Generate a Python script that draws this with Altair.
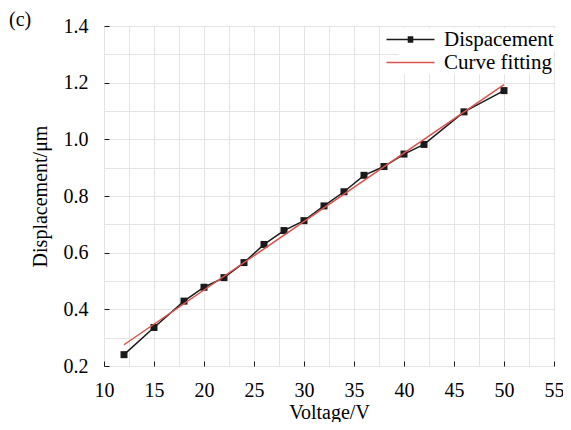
import altair as alt
import pandas as pd

# ---- data ----
voltage = [12, 15, 18, 20, 22, 24, 26, 28, 30, 32, 34, 36, 38, 40, 42, 46, 50]
displacement = [0.240, 0.336, 0.429, 0.478, 0.512, 0.565, 0.629, 0.678, 0.713,
                0.765, 0.815, 0.873, 0.904, 0.948, 0.982, 1.097, 1.172]
fit_voltage = [12, 50]
fit_displacement = [0.275, 1.193]

x_ticks = [10, 12.5, 15, 17.5, 20, 22.5, 25, 27.5, 30, 32.5, 35, 37.5, 40,
           42.5, 45, 47.5, 50, 52.5, 55]
y_ticks = [0.2, 0.3, 0.4, 0.5, 0.6, 0.7, 0.8, 0.9, 1.0, 1.1, 1.2, 1.3, 1.4]

data_name = "Dispacement"
fit_name = "Curve fitting"

df_data = pd.DataFrame({"Voltage": voltage, "Displacement": displacement,
                        "Series": [data_name] * len(voltage)})
df_fit = pd.DataFrame({"Voltage": fit_voltage, "Displacement": fit_displacement,
                       "Series": [fit_name] * len(fit_voltage)})

FONT = "Liberation Serif"
BLACK = "#1a1a1a"
RED = "#d9534f"
GRID = "#e4e4e4"

x_enc = alt.X(
    "Voltage:Q",
    scale=alt.Scale(domain=[10, 55], nice=False, zero=False),
    axis=alt.Axis(
        title="Voltage/V",
        values=x_ticks,
        labelExpr="datum.value % 5 == 0 ? datum.label : ''",
        grid=True, gridColor=GRID, gridWidth=1,
        domain=False,
        ticks=True, tickSize=5, tickColor=BLACK, tickWidth=1,
        tickOpacity={"condition": {"test": "datum.value % 5 == 0", "value": 1}, "value": 0},
        offset=-5,
        labelPadding=14,
        labelFont=FONT, labelFontSize=20, labelColor="black",
        labelFlush=False, labelOverlap=False,
        titleFont=FONT, titleFontSize=20, titleFontWeight="normal", titleColor="black",
        titlePadding=2,
    ),
)
y_enc = alt.Y(
    "Displacement:Q",
    scale=alt.Scale(domain=[0.2, 1.4], nice=False, zero=False),
    axis=alt.Axis(
        title="Displacement/μm",
        values=y_ticks,
        format=".1f",
        labelExpr="round(datum.value * 10) % 2 == 0 ? datum.label : ''",
        grid=True, gridColor=GRID, gridWidth=1,
        domain=False,
        ticks=True, tickSize=5, tickColor=BLACK, tickWidth=1,
        tickOpacity={"condition": {"test": "round(datum.value * 10) % 2 == 0", "value": 1}, "value": 0},
        offset=-5,
        labelPadding=16,
        labelFont=FONT, labelFontSize=20, labelColor="black",
        labelFlush=False, labelOverlap=False,
        titleFont=FONT, titleFontSize=20, titleFontWeight="normal", titleColor="black",
        titlePadding=13,
    ),
)

sq = ("M-0.35,-0.3H0.35M-0.35,-0.15H0.35M-0.35,0H0.35"
      "M-0.35,0.15H0.35M-0.35,0.3H0.35")
data_symbol = "M-3,0H3" + sq
fit_symbol = "M-3,0H3"

legend_common = dict(
    title=None, orient="none", legendX=295,
    labelFont=FONT, labelFontSize=21, labelColor="black",
    labelOffset=23, symbolSize=256, symbolStrokeWidth=1.5, padding=1,
    fillColor="white",
)

data_line = alt.Chart(df_data).mark_line(strokeWidth=1.5).encode(
    x=x_enc, y=y_enc,
    color=alt.Color("Series:N",
                    scale=alt.Scale(domain=[data_name], range=[BLACK]),
                    legend=alt.Legend(symbolType=data_symbol, legendY=2, **legend_common)),
)

fit_line = alt.Chart(df_fit).mark_line(strokeWidth=1.5).encode(
    x=x_enc, y=y_enc,
    color=alt.Color("Series:N",
                    scale=alt.Scale(domain=[fit_name], range=[RED]),
                    legend=alt.Legend(symbolType=fit_symbol, legendY=25, **legend_common)),
)

points = alt.Chart(df_data).mark_point(shape="square", filled=True, size=49, opacity=1,
                                       color=BLACK).encode(x=x_enc, y=y_enc)

chart = alt.layer(data_line, points, fit_line).resolve_scale(
    color="independent"
).properties(
    width=450, height=340,
    autosize=alt.AutoSizeParams(type="none"),
    padding={"left": 96, "top": 18, "right": 9, "bottom": 56},
    title=alt.TitleParams(text="(c)", anchor="start", frame="group", dx=-95, dy=32, offset=2,
                          baseline="alphabetic",
                          font=FONT, fontSize=20, fontWeight="normal", color="black"),
).configure_view(
    stroke="#222222", strokeWidth=1.5
).configure(
    font=FONT, background="white"
)

chart.save("out.html", embed_options={"renderer": "svg", "actions": False})
